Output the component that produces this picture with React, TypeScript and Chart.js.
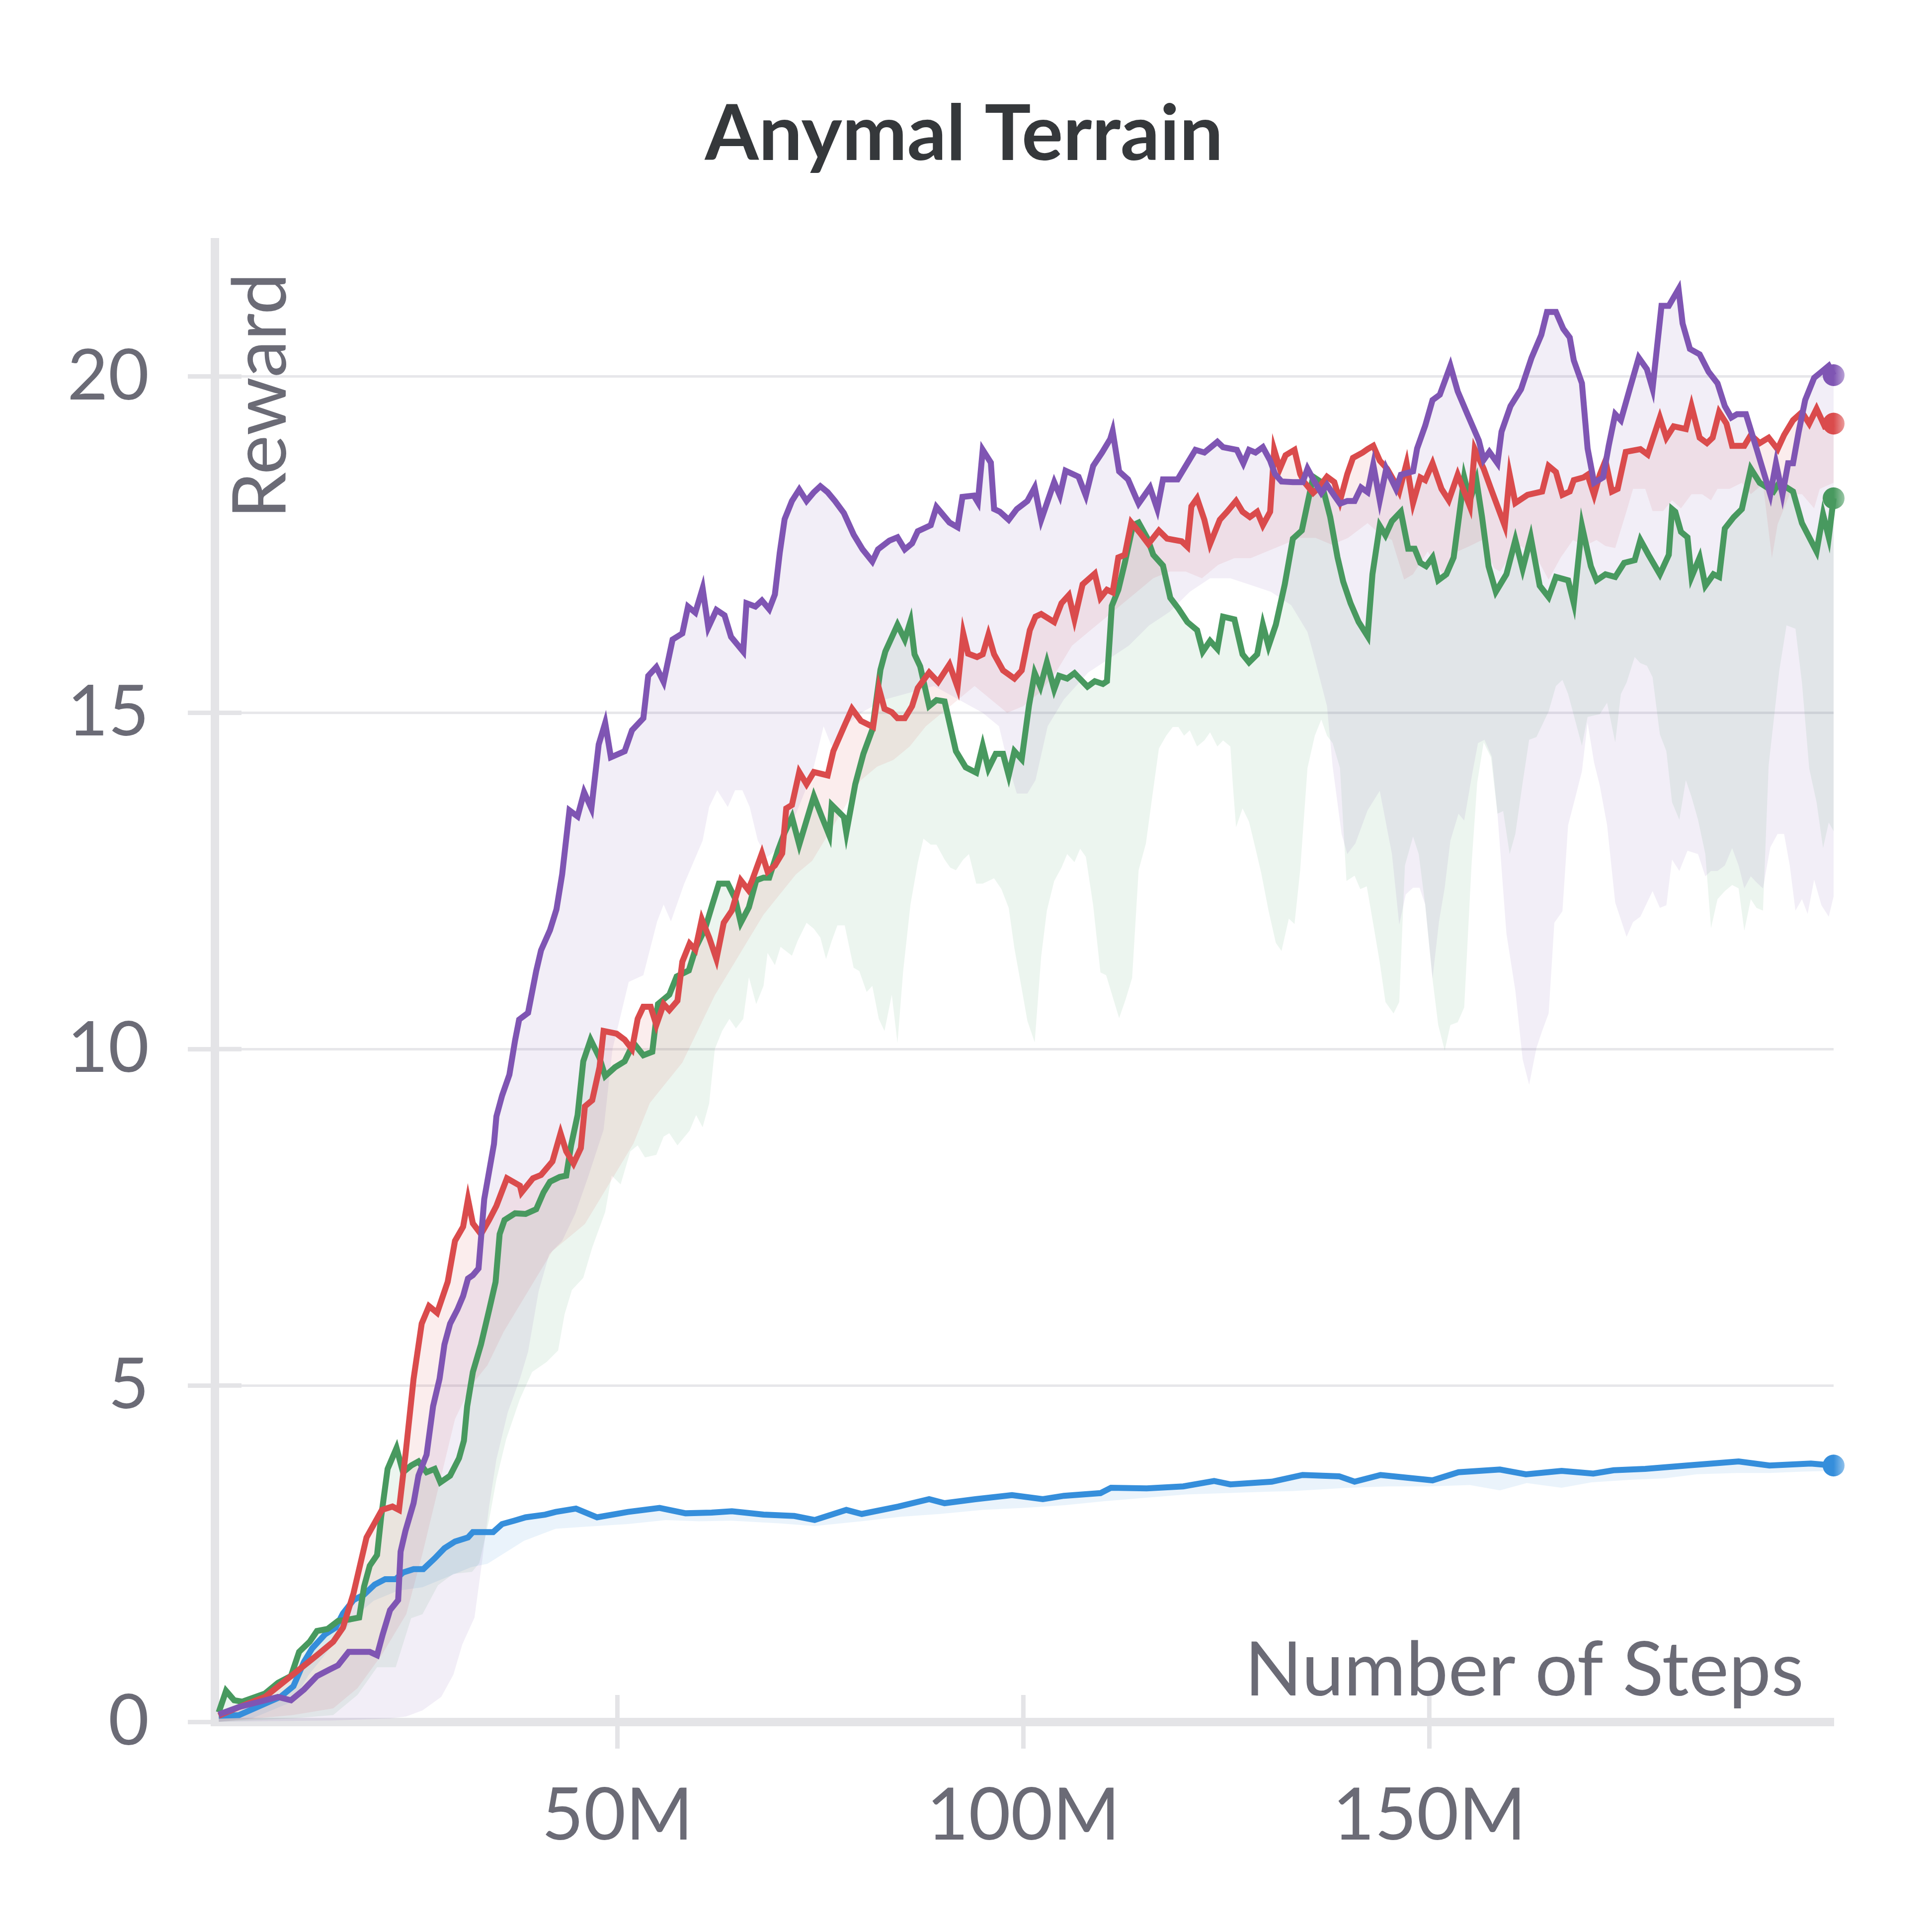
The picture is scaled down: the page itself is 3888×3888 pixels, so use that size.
import { useEffect, useRef } from "react";
import { Chart, registerables } from "chart.js";

Chart.register(...registerables);

// ---------- data (steps in millions, reward) ----------
const purpleSteps = [0.9,3.4,5.0,6.6,8.2,9.8,11.4,13.0,14.6,15.6,16.9,18.2,19.5,20.4,21.1,22.0,23.0,23.3,23.9,24.9,25.5,26.5,27.3,28.1,28.7,29.4,30.3,31.0,31.6,32.2,32.9,33.6,34.2,34.8,35.1,35.8,36.7,37.4,37.9,39.0,40.0,40.6,41.7,42.5,43.2,44.1,45.1,45.9,46.8,47.7,48.5,49.2,50.9,51.8,53.2,53.8,54.8,55.7,56.8,58.0,58.7,59.6,60.5,61.2,62.2,63.2,64.0,65.5,65.9,67.0,67.8,68.7,69.4,70.0,70.6,71.5,72.4,73.3,74.2,75.0,75.9,76.8,77.9,79.1,80.2,81.4,82.1,83.5,84.5,85.4,86.3,87.0,88.6,89.3,90.9,91.9,92.5,93.9,94.4,95.0,96.0,96.4,97.1,98.2,99.2,100.5,101.4,102.2,103.8,104.5,105.2,106.8,107.7,108.6,109.7,110.7,111.0,111.8,112.9,113.9,114.2,115.6,116.5,117.2,119.0,120.4,121.2,122.3,123.9,124.6,126.3,127.1,127.8,128.6,129.5,130.4,131.0,131.8,133.2,134.4,135.0,135.9,136.7,137.4,138.3,139.0,139.9,140.8,141.6,142.4,143.1,143.9,144.7,145.9,146.5,148.0,148.5,149.5,150.4,151.3,152.6,153.5,154.7,156.1,156.7,157.4,158.4,158.9,160.0,161.3,162.6,163.8,164.5,165.6,166.5,167.3,167.8,168.8,169.5,170.3,171.4,172.1,172.9,173.6,174.7,175.8,176.8,177.5,178.6,179.5,180.7,181.2,182.1,183.3,184.4,185.5,186.4,187.2,187.9,189.0,190.3,192.0,192.7,193.5,194.2,194.8,195.5,196.3,197.4,198.3,199.2,199.8];
const purpleReward = [0.11,0.22,0.27,0.32,0.37,0.32,0.48,0.68,0.78,0.84,1.04,1.04,1.04,0.99,1.30,1.66,1.81,2.53,2.84,3.25,3.66,3.97,4.69,5.10,5.61,5.92,6.13,6.33,6.59,6.64,6.74,7.77,8.18,8.59,9.00,9.31,9.62,10.13,10.44,10.54,11.16,11.47,11.77,12.08,12.60,13.55,13.46,13.82,13.58,14.53,14.85,14.34,14.43,14.74,14.92,15.55,15.68,15.46,16.09,16.18,16.58,16.49,16.85,16.27,16.53,16.45,16.13,15.91,16.63,16.58,16.67,16.54,16.76,17.38,17.88,18.15,18.32,18.15,18.28,18.37,18.28,18.15,17.97,17.65,17.43,17.25,17.43,17.56,17.61,17.43,17.52,17.70,17.79,18.06,17.83,17.76,18.21,18.23,18.13,18.91,18.72,18.03,17.99,17.87,18.03,18.15,18.35,17.87,18.43,18.23,18.60,18.51,18.23,18.67,18.87,19.07,19.19,18.59,18.47,18.19,18.11,18.35,18.03,18.47,18.47,18.75,18.91,18.87,19.03,18.95,18.91,18.71,18.91,18.87,18.95,18.75,18.55,18.44,18.43,18.43,18.63,18.43,18.27,18.39,18.23,18.11,18.15,18.15,18.35,18.28,18.69,18.16,18.63,18.33,18.54,18.59,18.93,19.27,19.65,19.73,20.16,19.78,19.44,19.05,18.76,18.88,18.71,19.18,19.56,19.81,20.28,20.62,20.96,20.96,20.71,20.58,20.24,19.90,18.93,18.42,18.50,18.97,19.44,19.35,19.82,20.28,20.11,19.82,21.05,21.05,21.30,20.79,20.41,20.33,20.07,19.90,19.56,19.39,19.44,19.44,18.93,18.25,18.71,18.25,18.71,18.71,19.18,19.65,19.98,20.07,20.16,20.02];

const redSteps = [0.9,3.4,6.6,9.8,13.0,15.0,16.2,17.5,19.1,21.0,22.3,23.1,23.9,24.9,25.9,26.8,27.8,29.1,30.0,31.0,31.6,32.2,33.2,34.2,35.1,36.4,38.0,38.2,39.6,40.6,42.0,43.0,43.7,44.6,45.5,46.0,46.9,47.8,48.3,49.9,50.9,51.8,52.5,53.2,54.1,54.8,55.7,56.4,57.4,58.0,58.9,59.6,60.4,61.3,62.2,63.1,64.1,65.2,66.1,66.6,67.8,68.5,69.4,70.3,70.8,71.5,72.4,73.3,74.2,75.9,76.6,77.9,78.9,80.0,81.5,82.2,82.9,83.8,84.5,85.4,86.3,87.0,88.4,89.5,90.9,91.9,92.6,93.2,94.3,95.0,95.7,96.4,97.5,98.9,99.8,100.8,101.5,102.2,103.8,104.7,105.6,106.3,107.3,108.8,109.5,110.3,111.0,111.7,112.5,113.3,114.4,115.4,116.7,117.7,119.5,120.2,120.7,121.4,122.3,123.0,124.2,125.1,126.2,127.0,127.9,128.8,129.5,130.4,130.9,131.6,132.3,133.4,134.1,134.6,135.7,136.4,137.4,138.3,139.0,139.9,140.6,141.8,142.4,143.1,143.9,144.8,145.6,146.3,147.2,148.0,148.9,149.5,150.4,151.5,152.4,153.5,155.0,155.6,156.7,157.6,159.3,159.9,160.6,162.1,163.9,164.7,165.6,166.4,167.3,167.8,169.0,169.5,170.3,171.0,171.7,172.5,173.2,174.2,176.0,176.9,178.4,179.2,180.1,181.6,182.3,183.3,184.2,184.9,185.7,186.6,187.3,188.8,189.6,190.7,191.8,192.9,193.7,194.8,195.9,196.8,197.7,198.7,199.8];
const redReward = [0.09,0.22,0.37,0.68,0.99,1.19,1.40,1.91,2.74,3.15,3.20,3.15,3.97,5.10,5.92,6.18,6.08,6.54,7.15,7.36,7.77,7.41,7.25,7.46,7.67,8.08,7.97,7.87,8.08,8.13,8.33,8.75,8.48,8.30,8.53,9.15,9.24,9.73,10.27,10.23,10.14,10.00,10.45,10.63,10.63,10.36,10.67,10.58,10.72,11.30,11.57,11.48,11.93,11.66,11.34,11.88,12.06,12.51,12.37,12.51,12.91,12.64,12.73,12.91,13.58,13.63,14.12,13.94,14.12,14.07,14.43,14.79,15.06,14.88,14.79,15.37,15.06,15.01,14.92,14.92,15.10,15.37,15.60,15.46,15.72,15.38,16.18,15.88,15.83,15.87,16.16,15.87,15.63,15.51,15.63,16.23,16.43,16.47,16.35,16.63,16.75,16.39,16.91,17.07,16.71,16.83,16.79,17.31,17.35,17.83,17.67,17.51,17.71,17.59,17.55,17.47,18.07,18.19,17.87,17.51,17.87,17.99,18.15,17.99,17.91,17.99,17.79,17.99,18.91,18.63,18.83,18.91,18.55,18.43,18.27,18.35,18.51,18.43,18.15,18.55,18.79,18.87,18.92,18.97,18.75,18.63,18.46,18.29,18.71,18.12,18.50,18.46,18.71,18.33,18.16,18.54,18.07,18.92,18.63,18.33,17.78,18.54,18.12,18.24,18.29,18.67,18.58,18.24,18.29,18.46,18.50,18.54,18.24,18.54,18.75,18.29,18.33,18.88,18.92,18.84,19.39,19.09,19.26,19.22,19.56,19.09,19.01,19.09,19.47,19.30,18.97,18.97,19.13,19.01,19.09,18.92,19.13,19.35,19.47,19.30,19.52,19.26,19.30];

const greenSteps = [0.9,1.8,2.8,3.8,6.6,8.2,9.8,10.8,12.1,13.0,14.3,15.6,16.9,18.2,18.8,19.5,20.4,20.9,21.7,22.8,23.6,24.6,25.5,26.5,27.5,28.2,29.4,30.5,31.1,31.5,32.2,33.2,34.2,35.0,35.5,36.1,37.4,38.7,40.0,40.9,41.7,42.9,43.7,44.3,45.1,45.8,46.7,47.8,48.5,49.7,50.9,52.0,53.2,54.3,55.0,56.4,57.3,58.8,59.7,60.8,61.7,62.5,63.6,64.5,65.2,66.2,67.1,68.0,68.7,69.8,70.6,71.5,72.4,73.3,74.2,75.2,76.1,76.4,77.9,78.2,79.3,80.3,81.4,82.4,83.0,84.5,85.4,86.1,86.6,87.3,88.4,89.3,90.3,91.7,92.9,94.2,95.0,95.7,96.6,97.5,98.2,98.9,99.8,100.7,101.4,102.1,102.9,103.8,104.4,105.4,106.3,107.9,108.8,109.8,110.3,110.9,111.7,112.5,113.5,114.2,115.3,116.0,117.2,118.1,119.1,120.2,121.4,122.1,123.0,123.9,124.6,126.0,127.0,127.8,128.8,129.5,130.2,131.1,132.2,133.2,134.3,135.7,136.7,137.8,138.7,139.4,140.3,141.3,142.4,143.0,143.9,144.6,145.4,146.5,147.4,148.2,148.9,149.6,150.4,151.1,152.1,153.0,153.7,154.3,155.0,155.8,156.5,157.3,158.2,159.5,160.6,161.5,162.5,163.6,164.7,165.6,167.1,167.8,168.8,169.9,170.6,171.7,172.9,174.0,175.3,176.0,177.0,178.4,179.5,179.9,180.3,181.0,181.8,182.3,183.3,184.0,185.0,185.7,186.4,187.5,188.5,189.6,190.7,192.4,193.1,194.8,195.9,197.7,198.5,199.2,199.8];
const greenReward = [0.14,0.46,0.32,0.30,0.42,0.58,0.68,1.04,1.19,1.35,1.38,1.50,1.52,1.55,2.01,2.32,2.48,3.04,3.76,4.07,3.71,3.81,3.87,3.71,3.76,3.56,3.66,3.92,4.18,4.69,5.20,5.61,6.12,6.54,7.25,7.46,7.56,7.55,7.62,7.87,8.03,8.10,8.12,8.57,9.02,9.82,10.14,9.87,9.60,9.73,9.82,10.09,9.91,9.96,10.67,10.81,11.08,11.17,11.52,11.79,12.15,12.46,12.46,12.24,11.88,12.11,12.51,12.55,12.55,12.96,13.22,13.45,13.04,13.40,13.76,13.45,13.18,13.63,13.45,13.22,13.94,14.39,14.75,15.64,15.91,16.31,16.09,16.36,15.87,15.69,15.10,15.19,15.17,14.43,14.19,14.11,14.51,14.17,14.39,14.39,14.07,14.43,14.31,15.11,15.59,15.39,15.75,15.35,15.55,15.51,15.59,15.39,15.47,15.43,15.47,16.59,16.83,17.23,17.79,17.83,17.59,17.35,17.19,16.71,16.55,16.35,16.23,15.91,16.07,15.95,16.43,16.39,15.87,15.75,15.87,16.31,15.99,16.31,16.91,17.59,17.71,18.51,18.43,17.91,17.31,16.95,16.63,16.35,16.14,17.06,17.78,17.64,17.85,17.99,17.44,17.44,17.23,17.18,17.31,16.97,17.06,17.31,17.95,18.50,18.16,18.46,17.91,17.18,16.80,17.06,17.57,17.14,17.61,16.89,16.72,17.02,16.97,16.63,17.78,17.18,16.97,17.06,17.02,17.23,17.27,17.57,17.35,17.06,17.35,18.03,17.99,17.69,17.61,17.02,17.31,16.89,17.06,17.02,17.74,17.91,18.03,18.63,18.42,18.29,18.42,18.29,17.82,17.40,17.95,17.61,18.19];

const blueSteps = [0.9,3.4,6.6,8.5,10.1,11.4,12.4,14.0,15.3,16.2,17.5,18.8,20.1,21.4,22.7,23.6,24.9,26.1,27.5,28.7,30.0,31.6,32.2,34.7,35.8,37.3,38.7,41.1,42.4,44.9,47.5,51.3,55.2,58.4,61.6,64.1,68.0,71.8,74.3,78.2,80.1,84.6,88.4,90.3,94.1,98.6,102.4,105.0,109.5,110.8,115.2,119.7,123.5,125.5,130.6,134.4,138.9,140.8,144.0,150.4,153.6,158.7,161.9,166.3,170.2,172.7,176.6,181.7,188.1,191.9,197.0,199.8];
const blueReward = [0.09,0.10,0.27,0.37,0.53,0.89,1.09,1.30,1.40,1.61,1.81,1.89,2.04,2.12,2.12,2.22,2.27,2.27,2.43,2.58,2.68,2.74,2.82,2.82,2.94,2.99,3.04,3.08,3.12,3.17,3.04,3.12,3.18,3.10,3.11,3.13,3.08,3.06,3.00,3.15,3.09,3.20,3.31,3.25,3.31,3.37,3.31,3.36,3.40,3.48,3.47,3.50,3.58,3.53,3.57,3.67,3.65,3.57,3.67,3.59,3.71,3.75,3.68,3.73,3.69,3.74,3.76,3.81,3.87,3.81,3.84,3.81];

// lower edges of the shaded bands (the upper edge is the series line)
const purpleLowSteps = [0.9,15,22,24,26,28.3,29.8,30.9,32.4,33.3,34.2,35.1,36.5,38,39,40.3,41.6,43.2,44.8,46.4,48.3,49.4,51.4,53.2,54.9,55.7,56.6,58.2,60.5,61.3,62.3,63.6,64.5,65.4,66.3,67.3,68.4,70,72,74,75.4,76.4,78,80,83,86,89,92,95,97,98.2,99.2,100.5,101.5,103,105,108,110.5,113,115.5,118,120.5,123,125.5,128,130.5,133,135,135.9,137.4,138.1,139.2,139.9,140.9,142.4,143.9,145.4,146.3,147.1,148,148.8,149.5,150.4,151.2,151.9,152.6,153.6,154.3,155.3,156,156.8,157.7,158.4,159.5,160.6,161.5,162.3,163.2,163.9,164.7,165.1,165.4,166.4,167.1,168,168.8,169.5,170.3,171,171.9,172.9,174.3,175.1,176,177.5,178.4,179.2,179.9,180.8,181.8,183.1,184,184.7,185.5,186.4,187.3,188.1,188.8,189.6,190.3,191.1,192,192.9,193.7,194.4,195.1,195.9,196.6,197.4,198.3,199.2,199.8];
const purpleLow = [0,0.02,0.05,0.08,0.17,0.37,0.7,1.15,1.55,2.35,3.2,3.9,4.6,5.1,5.5,6.4,6.95,7.15,7.55,8.1,8.8,10.0,11.0,11.1,11.9,12.15,11.9,12.45,13.1,13.6,13.85,13.6,13.85,13.85,13.6,13.1,12.85,13.0,13.5,14.1,14.8,14.5,14.8,15.0,15.2,15.3,15.4,15.2,15.0,14.8,14.2,13.8,13.8,14.0,14.8,15.2,15.6,15.8,16.0,16.3,16.5,16.8,17.0,17.0,16.9,16.8,16.6,16.2,15.8,15.1,14.2,13.2,12.9,13.06,13.55,13.84,12.9,11.85,12.3,12.4,12.4,12.15,11.05,11.9,12.4,13.1,13.5,13.4,14.1,14.55,14.6,14.35,13.5,11.72,10.87,9.85,9.47,10.02,10.27,10.53,11.29,11.88,12.05,13.33,13.75,14.13,14.85,14.26,13.92,13.33,12.18,11.67,11.89,11.97,12.35,12.1,12.14,12.82,12.65,12.95,12.9,12.57,12.65,12.65,12.73,12.99,12.73,12.39,12.57,12.48,12.39,13.0,13.2,13.2,12.73,12.06,12.23,12.01,12.52,12.14,11.97,12.27];

const greenLowSteps = [0.9,10,15,18,20.4,22.7,24.6,26,27.9,29.8,32.1,33,34.2,35.1,36.3,38,39.5,41.3,42.7,43.5,44.4,45.8,46.9,48.5,49.3,50.4,51.6,52.5,53.4,54.8,55.7,56.4,57.4,58.9,59.7,60.5,61.3,62,62.9,63.8,64.6,65.5,66.2,67.1,68,68.5,69.4,70.1,71.5,72.2,73.3,74.2,75,75.7,76.4,77.1,78,79.1,79.8,80.7,81.4,82.2,82.9,83.8,84.5,85.2,86.1,87,87.7,88.6,89.3,90.3,91,91.7,92.6,93.3,94.2,95,96.4,97.3,98.2,98.9,99.8,100.5,101.4,102.2,102.9,103.8,104.7,105.4,106.3,107,107.7,108.6,109.5,110.2,111,111.8,112.6,113.4,114.2,115.1,116,116.7,117.6,118.4,119.1,119.8,120.5,121.4,122.3,123,123.9,124.6,125.5,125.8,126.2,127,127.8,128.6,129.3,130.2,131.1,131.8,132.7,133.4,134.1,135,135.9,136.7,137.4,138.1,139,139.8,140.8,141.5,142.3,143.1,143.9,144.6,145.6,146.3,147,148,148.7,149.5,150.4,151.1,151.9,152.6,153.5,154.3,155.2,155.9,156.7,157.6,158.4,159.1,159.9,160.6,161.5,162.3,163.2,164.7,165.6,166.4,167.1,168.8,169.5,171,171.9,172.9,173.6,174.3,175.3,176,176.8,177.5,178.4,179.2,179.9,180.8,181.6,182.3,183.1,184,184.7,185.5,186.4,187.3,188.1,188.8,189.6,190.3,191.1,191.8,193.1,194,195.1,195.9,196.8,197.7,198.5,199.2,199.8];
const greenLow = [0,0.05,0.1,0.4,0.81,0.81,1.54,1.6,2.03,2.2,2.23,2.36,3.0,3.6,4.2,4.8,5.2,5.35,5.52,6.06,6.42,6.6,7.05,7.58,8.12,7.99,8.48,8.57,8.39,8.43,8.7,8.75,8.57,8.79,9.02,8.84,9.19,10.0,10.27,10.45,10.31,10.45,11.07,10.67,10.94,11.43,11.25,11.52,11.39,11.61,11.88,11.79,11.66,11.34,11.61,11.84,11.84,11.21,11.16,10.85,10.94,10.45,10.27,10.81,10.09,11.16,12.15,12.77,13.13,13.04,13.04,12.82,12.7,12.66,12.82,12.9,12.46,12.46,12.54,12.38,12.1,11.5,10.9,10.42,10.1,11.38,12.06,12.5,12.7,12.9,12.78,12.98,12.86,12.14,11.14,11.1,10.78,10.46,10.74,11.06,12.66,13.06,13.86,14.47,14.66,14.79,14.79,14.66,14.74,14.5,14.59,14.71,14.5,14.59,14.5,13.94,13.3,13.58,13.38,12.98,12.62,12.06,11.58,11.46,11.94,11.86,12.66,14.18,14.66,14.9,14.66,14.55,14.18,12.5,12.58,12.38,12.42,11.86,11.29,10.7,10.53,10.7,12.73,13.16,12.9,12.14,11.04,10.36,9.98,10.36,10.4,10.62,12.73,13.96,14.56,14.34,13.5,13.54,12.9,13.2,13.96,14.6,14.64,15.02,15.4,15.49,15.28,14.51,14.94,14.98,15.15,14.56,15.28,15.45,15.83,15.74,15.7,15.53,14.68,14.43,13.67,13.41,14.0,13.75,13.41,12.9,11.8,12.23,12.35,12.44,12.39,11.76,12.23,12.1,12.06,14.22,15.62,16.3,16.25,15.45,14.17,13.67,12.99,13.37,13.24];

const redLowSteps = [0.9,10,15,18,21,24,26,28,30,32,34,36,38,40,42,44,46,48,50,52,54,56,58,60,62,64,66,68,70,72,74,76,78,80,82,84,86,88,90,92,94,96,98,100,102,104,106,108,110,112,114,116,118,120,122,124,126,128,130,132,134,136,138,140,142.4,143.9,145.4,146.9,148,149.8,152.1,153.5,155,156.5,158,158.7,159.9,161.3,163.2,164.7,166.2,167.7,169.1,170.6,171.7,172.9,174.3,175.1,176.6,177.5,178.8,179.9,181,182.3,183.6,184.7,185.5,187,188.5,189.6,191.1,192.2,192.9,194.4,195.9,197.4,198.1,199.8];
const redLow = [0,0.1,0.2,0.5,1.0,1.6,2.5,3.5,4.5,5.0,5.3,5.8,6.2,6.6,7.0,7.2,7.4,7.8,8.2,8.6,9.2,9.5,9.8,10.3,10.8,11.2,11.6,12.0,12.3,12.6,12.8,13.2,13.6,14.0,14.2,14.3,14.5,14.8,15.0,15.2,15.4,15.2,15.0,15.1,15.3,15.6,16.0,16.2,16.4,16.6,16.8,17.0,17.1,17.1,17.0,17.2,17.3,17.3,17.4,17.5,17.6,17.6,17.5,17.6,17.82,17.66,17.57,16.98,17.06,17.4,16.98,17.4,17.48,17.57,17.15,17.1,17.31,17.48,17.31,16.98,17.31,17.57,17.48,17.57,17.48,17.45,18.0,18.33,18.33,18.0,18.0,18.16,18.04,18.25,18.25,18.16,18.33,18.33,18.42,18.25,18.4,17.3,17.8,18.25,18.25,18.04,18.33,18.42];

const blueLowSteps = [0.9,5,10,12,14,16,18,20,23,26,29,32,34,36,38.5,42.4,46,51.3,56,60,64.1,70,74.3,80,85,89.7,95,100,105,110,115,120,125,130,133.1,140,145,150,155,158.7,162,166.3,170,175,179,183,188,192,196,199.8];
const blueLow = [0,0.05,0.3,0.7,1.0,1.3,1.6,1.8,1.95,2.0,2.15,2.3,2.35,2.5,2.69,2.87,2.9,2.94,3.0,2.98,2.99,2.95,2.91,2.98,3.05,3.09,3.15,3.18,3.22,3.28,3.33,3.38,3.4,3.42,3.43,3.48,3.5,3.5,3.52,3.44,3.55,3.48,3.56,3.6,3.62,3.68,3.7,3.7,3.72,3.73];

// ---------- axes ----------
const yTicks = [0, 5, 10, 15, 20];
const xTicks = [50, 100, 150];
const xTickLabels = ["50M", "100M", "150M"];
const X_MIN = 0.4;
const X_MAX = 199.8;
const Y_MIN = 0;
const Y_MAX = 22;

const TITLE = "Anymal Terrain";
const Y_TITLE = "Reward";
const X_TITLE = "Number of Steps";

const COLORS = {
  purple: "#7f55b3",
  red: "#da4b4c",
  green: "#48995f",
  blue: "#358edb",
};

const FONT = "Lato, 'Noto Sans', sans-serif";
const TEXT_GRAY = "#6b6b76";
const AXIS_GRAY = "#e4e4e7";
const GRID_GRAY = "#e7e7ea";

function toPoints(xs: number[], ys: number[]) {
  return xs.map((x, i) => ({ x, y: ys[i] }));
}

function hexToRgba(hex: string, a: number) {
  const n = parseInt(hex.slice(1), 16);
  return `rgba(${(n >> 16) & 255},${(n >> 8) & 255},${n & 255},${a})`;
}

function lineDataset(label: string, xs: number[], ys: number[], color: string, order: number) {
  const last = xs.length - 1;
  return {
    label,
    data: toPoints(xs, ys),
    borderColor: color,
    borderWidth: 12,
    backgroundColor: color,
    fill: false,
    tension: 0,
    order,
    clip: false as const,
    pointRadius: (ctx: any) => (ctx.dataIndex === last ? 22 : 0),
    pointHoverRadius: 0,
    pointBorderWidth: 0,
    pointBackgroundColor: (ctx: any) => {
      const area = ctx.chart.chartArea;
      if (!area) return color;
      const g = ctx.chart.ctx.createLinearGradient(area.right - 22, 0, area.right + 22, 0);
      g.addColorStop(0, color);
      g.addColorStop(0.5, color);
      g.addColorStop(1, hexToRgba(color, 0.55));
      return g;
    },
  };
}

function bandDataset(label: string, xs: number[], ys: number[], color: string, target: number, order: number) {
  const c = hexToRgba(color, 0.1);
  return {
    label,
    data: toPoints(xs, ys),
    borderWidth: 0,
    borderColor: "rgba(0,0,0,0)",
    backgroundColor: c,
    pointRadius: 0,
    pointHoverRadius: 0,
    tension: 0,
    order,
    fill: { target, above: c, below: c },
  };
}

const decorPlugin = {
  id: "decor",
  beforeDatasetsDraw(chart: any) {
    const { ctx, chartArea, scales } = chart;
    ctx.save();
    ctx.strokeStyle = AXIS_GRAY;
    ctx.lineWidth = 9;
    for (const v of yTicks) {
      if (v === 0) continue;
      const y = scales.y.getPixelForValue(v);
      ctx.beginPath();
      ctx.moveTo(chartArea.left, y);
      ctx.lineTo(chartArea.left + 54, y);
      ctx.stroke();
    }
    for (const v of xTicks) {
      const x = scales.x.getPixelForValue(v);
      ctx.beginPath();
      ctx.moveTo(x, chartArea.bottom);
      ctx.lineTo(x, chartArea.bottom - 54);
      ctx.stroke();
    }
    ctx.restore();
  },
  afterDraw(chart: any) {
    const { ctx, chartArea } = chart;
    ctx.save();
    // title
    ctx.fillStyle = "#35383b";
    ctx.font = `bold 156px ${FONT}`;
    ctx.textAlign = "center";
    ctx.textBaseline = "alphabetic";
    ctx.fillText(TITLE, 1940, 322);
    // y title, inside plot, rotated
    ctx.fillStyle = TEXT_GRAY;
    ctx.font = `150px ${FONT}`;
    ctx.translate(chartArea.left + 143, chartArea.top + 557);
    ctx.rotate(-Math.PI / 2);
    ctx.textAlign = "left";
    ctx.fillText(Y_TITLE, 0, 0);
    ctx.restore();
    ctx.save();
    ctx.fillStyle = TEXT_GRAY;
    ctx.font = `152px ${FONT}`;
    ctx.textAlign = "right";
    ctx.textBaseline = "alphabetic";
    ctx.fillText(X_TITLE, chartArea.right - 60, chartArea.bottom - 53);
    ctx.restore();
  },
};

export default function App() {
  const ref = useRef<HTMLCanvasElement | null>(null);

  useEffect(() => {
    if (!ref.current) return;
    const chart = new Chart(ref.current, {
      type: "line",
      data: {
        datasets: [
          lineDataset("purple", purpleSteps, purpleReward, COLORS.purple, 0),
          lineDataset("red", redSteps, redReward, COLORS.red, 1),
          lineDataset("green", greenSteps, greenReward, COLORS.green, 2),
          lineDataset("blue", blueSteps, blueReward, COLORS.blue, 3),
          bandDataset("purple band", purpleLowSteps, purpleLow, COLORS.purple, 0, 10),
          bandDataset("red band", redLowSteps, redLow, COLORS.red, 1, 11),
          bandDataset("green band", greenLowSteps, greenLow, COLORS.green, 2, 12),
          bandDataset("blue band", blueLowSteps, blueLow, COLORS.blue, 3, 13),
        ] as any,
      },
      options: {
        responsive: false,
        devicePixelRatio: 1,
        animation: false,
        events: [],
        layout: { padding: { top: 487, right: 198, left: 0, bottom: 0 } },
        plugins: {
          legend: { display: false },
          title: { display: false },
          tooltip: { enabled: false },
        },
        scales: {
          x: {
            type: "linear",
            min: X_MIN,
            max: X_MAX,
            afterBuildTicks: (scale: any) => {
              scale.ticks = xTicks.map((v) => ({ value: v }));
            },
            afterFit: (scale: any) => {
              scale.height = 423;
            },
            grid: {
              drawOnChartArea: false,
              drawTicks: true,
              tickLength: 54,
              tickWidth: 9,
              tickColor: AXIS_GRAY,
            },
            border: { display: true, width: 17, color: AXIS_GRAY },
            ticks: {
              autoSkip: false,
              maxRotation: 0,
              padding: 48,
              color: TEXT_GRAY,
              font: { family: FONT, size: 146 },
              callback: (value: any) => {
                const i = xTicks.indexOf(Number(value));
                return i >= 0 ? xTickLabels[i] : "";
              },
            },
          },
          y: {
            type: "linear",
            min: Y_MIN,
            max: Y_MAX,
            afterBuildTicks: (scale: any) => {
              scale.ticks = yTicks.map((v) => ({ value: v }));
            },
            afterFit: (scale: any) => {
              scale.width = 432;
            },
            grid: {
              drawOnChartArea: true,
              color: GRID_GRAY,
              lineWidth: 5,
              drawTicks: true,
              tickLength: 54,
              tickWidth: 9,
              tickColor: AXIS_GRAY,
            },
            border: { display: true, width: 17, color: AXIS_GRAY },
            ticks: {
              padding: 78,
              color: TEXT_GRAY,
              font: { family: FONT, size: 142 },
              callback: (value: any) => String(value),
            },
          },
        },
      },
      plugins: [decorPlugin],
    });
    return () => chart.destroy();
  }, []);

  return (
    <div style={{ position: "absolute", left: 0, top: 0, width: 3888, height: 3888, background: "#fff" }}>
      <canvas ref={ref} width={3888} height={3888} style={{ width: 3888, height: 3888, display: "block" }} />
    </div>
  );
}
